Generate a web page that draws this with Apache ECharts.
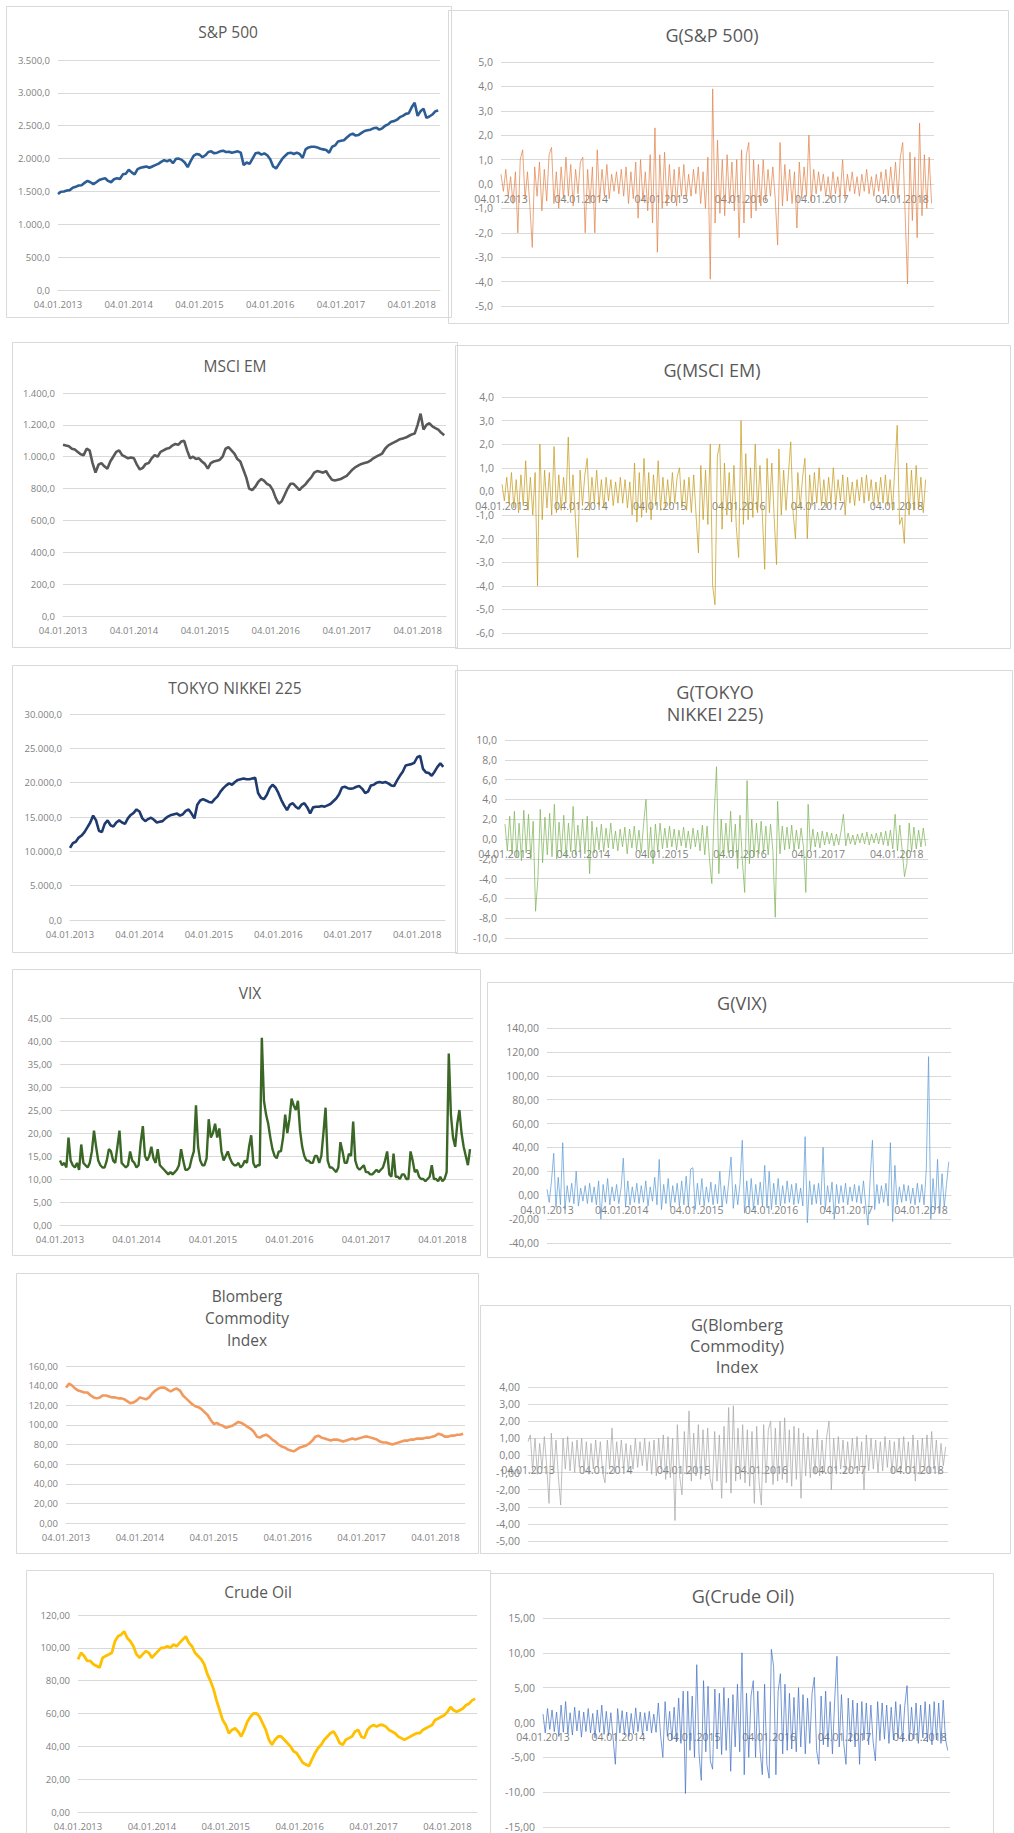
<!DOCTYPE html>
<html>
<head>
<meta charset="utf-8">
<title>Indizes und Renditen 2013-2018</title>
<script src="https://cdn.jsdelivr.net/npm/echarts@6/dist/echarts.min.js"></script>
<style>
html, body { margin: 0; padding: 0; background: #fff; }
#chart { width: 1014px; height: 1833px; }
</style>
</head>
<body>
<div id="chart"></div>
<script>
// index levels, two readings per month from Jan 2013 (VIX: three per month)
var spx = [1460,1495,1500,1515,1520,1555,1570,1590,1595,1630,1660,1640,1610,1640,1675,1690,1700,1660,1640,1685,1700,1690,1760,1770,
  1830,1790,1760,1840,1860,1870,1880,1860,1880,1900,1920,1950,1975,1960,1980,1930,1995,2000,1980,1940,1870,1960,2040,2070,
  2060,2020,2050,2100,2110,2080,2090,2110,2120,2100,2105,2090,2100,2110,2090,1900,1940,1920,2000,2080,2090,2060,2080,2050,
  1990,1880,1850,1920,1990,2040,2080,2090,2070,2090,2070,2010,2140,2170,2180,2180,2170,2150,2140,2130,2090,2180,2200,2260,
  2270,2280,2320,2360,2380,2350,2360,2390,2420,2430,2440,2460,2470,2440,2460,2500,2520,2560,2570,2590,2630,2650,2680,2690,
  2780,2850,2650,2720,2760,2620,2640,2670,2720,2730];
var msci = [1075,1070,1065,1050,1045,1030,1015,1010,1050,1040,960,900,950,960,940,925,970,1000,1030,1040,1010,1000,990,995,
  990,950,920,930,955,960,990,1010,1000,1030,1040,1050,1055,1070,1080,1075,1095,1100,1040,990,1000,985,990,970,
  955,925,960,970,975,980,1000,1050,1060,1040,1020,985,970,920,870,800,790,810,840,860,850,830,820,790,
  740,705,720,760,800,830,830,810,790,810,825,850,870,900,910,905,900,910,880,855,850,855,860,870,
  880,900,920,935,945,955,960,965,975,990,1000,1010,1020,1050,1070,1080,1090,1100,1110,1115,1120,1130,1140,1145,
  1200,1270,1170,1200,1210,1190,1180,1170,1150,1135];
var nikkei = [10500,11200,11400,12000,12300,12800,13500,14200,15200,14500,13000,12800,14000,14500,13800,13600,14200,14500,14200,14000,14800,15300,15600,16100,
  15800,14800,14400,14700,14900,14600,14200,14300,14400,14800,15100,15300,15400,15500,15200,15400,15900,16100,15500,14800,16800,17400,17600,17400,
  17200,17100,17600,18000,18700,19200,19600,19900,19700,20100,20400,20500,20600,20500,20500,20600,20700,18500,17800,17600,18200,19200,19700,19300,
  18500,17500,16700,16000,16800,17000,16500,16200,16800,17000,16400,15500,16400,16500,16500,16600,16500,16700,16900,17300,17700,18300,19300,19400,
  19200,19100,19200,19400,19500,19100,18500,18700,19600,19700,20000,20100,20000,20100,19900,19600,19500,20300,21000,21600,22500,22600,22700,22900,
  23700,23900,22000,21500,21400,21000,21600,22300,22800,22300];
var vix = [14,13,13.5, 12.5,19,14, 13,12.5,13.5, 12,17.5,13.5, 13,12.5,13.5, 16,20.5,17, 14,13,12.5, 12.5,14,16.5, 16,14,13.5, 17,20.5,13.5, 13,12.5,13, 16,14,13.5,
  12.5,13,18, 21.5,15,14, 15,17,14.5, 13.5,16.5,13, 12.5,12,11.5, 11,11.5,11, 11.5,12,13, 16.5,14,12, 12,12.5,14.5, 16,26,17, 14,13,13, 14.5,23,19,
  20,22,19, 21,16,14, 15,16,14.5, 13.5,13,13, 13.5,12.5,13, 14,13.5,17, 19.5,13.5,12.5, 13,13,40.7, 27,24,22, 19,16.5,15, 14.5,16,16, 19,24,20,
  23,27.5,26, 25,27,20.5, 17,15,14, 14,13.5,13.5, 15,15,13.5, 15,20,25.5, 14,12.5,12.5, 12,11.5,12.5, 18,16,13.5, 13.5,15.5,15, 22.5,14,12.5, 12,12.5,13,
  11.5,11.5,11, 11,11.5,12, 11.5,12,12.5, 14,16,11, 10.5,15.5,10.5, 10.5,10,11, 11,10,10, 16,14,11.5, 12,10.5,10, 10,9.5,10, 10.5,13,10, 10,9.5,10.5,
  9.5,10,11.5, 37.3,24,19, 17,22,25, 20,17,15, 13,16.5];
var bcom = [138,142,140,137,135,134,133,133,130,128,127,128,130,130,129,128,128,127,127,126,124,122,123,125,
  128,127,126,128,132,135,137,138,138,136,134,136,137,135,130,127,124,121,119,118,116,113,110,105,
  101,102,100,99,97,98,99,101,103,102,100,98,96,93,88,87,89,90,88,85,83,80,78,77,
  75,74,73,75,77,78,79,81,84,88,89,87,86,85,84,85,85,84,83,84,85,86,85,86,
  87,88,88,87,86,85,83,82,82,81,80,81,82,83,84,84,85,85,86,86,86,87,87,88,
  89,91,90,88,88,89,89,90,90,91];
var oil = [93,97,95,92,92,90,89,88,94,95,96,97,104,107,108,110,106,104,101,96,94,96,98,97,
  94,96,98,100,100,101,100,102,101,103,105,107,103,101,97,95,93,90,84,80,75,68,62,56,
  53,48,50,51,49,46,50,55,58,60,60,58,54,50,44,41,44,46,46,44,42,40,37,36,
  33,30,29,28,32,36,39,41,44,46,48,49,46,42,41,44,45,46,49,50,46,45,50,52,
  53,52,53,53,52,50,49,48,46,45,44,45,46,47,48,48,50,51,52,53,56,57,58,59,
  61,64,62,61,62,63,65,66,68,69];

// returns G(...) in %, one reading every ~11 days
var spxRet = [0.4,-0.3,0.6,-0.5,0.3,-0.8,0.5,-2.0,1.0,1.4, -0.6,0.5,-0.9,-2.6,0.7,-0.5,0.9,-1.1,0.6,-0.7,
  1.2,1.5,-0.8,0.5,-1.0,0.7,-0.6,1.1,-0.5,0.8, -0.9,0.6,-0.4,0.9,1.1,-2.0,0.6,-0.8,0.7,-2.0,
  1.4,-0.7,0.6,-0.5,0.8,-0.6,0.4,-0.3,0.5,-0.4, 0.6,-0.5,0.7,-0.8,0.5,-0.6,0.9,-1.4,1.0,-0.7,
  0.5,-1.1,1.2,-1.6,2.3,-2.8,1.2,-1.0,1.3,-0.9, 0.8,-0.7,0.6,-0.9,0.7,-0.5,0.8,-0.6,0.4,-0.5,
  0.6,-0.4,0.7,-0.8,0.5,-1.0,1.1,-3.9,3.9,-1.6, 1.8,-1.2,1.0,-1.3,1.2,-0.8,0.9,-1.1,1.0,-2.2,
  1.4,-1.6,1.2,1.7,-1.4,1.0,-1.1,0.8,-0.9,1.0, -0.7,0.6,-0.5,0.7,-0.6,-2.5,1.7,-0.9,0.8,-0.7,
  0.6,-0.8,0.5,-1.8,0.9,-0.6,0.7,-0.5,2.0,-0.7, 0.6,-0.4,0.5,-0.3,0.4,-0.5,0.3,-0.6,0.5,-0.4,
  0.3,-0.5,1.0,-0.6,0.4,-0.3,0.5,-0.4,0.3,-0.5, 0.4,-0.3,0.6,-0.4,0.3,-0.5,0.4,-0.3,0.5,-0.4,
  0.6,-0.5,0.7,-0.4,0.9,-0.6,1.1,1.7,-1.2,-4.1, 1.3,-1.5,1.1,-2.2,2.5,-1.3,1.2,-1.0,1.1,-0.8];
var msciRet = [0.3,-0.4,0.6,-0.5,0.8,-0.7,0.5,-0.9,0.7,-0.6, 1.3,-0.8,0.6,-1.0,0.8,-4.0,2.0,-1.2,0.9,-0.7,
  0.8,-1.0,1.9,-0.9,0.7,-0.8,0.6,-0.5,2.3,-0.9, 0.7,-1.1,-2.8,0.9,-0.6,0.7,1.4,-0.8,0.6,-0.5,
  0.9,-0.6,0.5,-0.7,0.6,-0.4,0.5,-0.6,0.4,-0.5, 0.6,-0.5,0.5,-0.7,0.4,-1.0,1.2,-1.3,0.8,-1.1,
  1.4,-0.9,0.8,-1.2,0.7,-0.6,1.3,-0.8,0.6,-0.7, 0.5,-0.6,0.8,-0.5,0.6,1.0,-0.7,0.5,-0.8,0.6,
  -0.9,0.7,-1.0,-2.6,1.1,-1.2,0.9,-1.4,2.0,-4.0, -4.8,1.5,2.0,-1.6,1.2,-1.0,0.8,-1.3,1.1,-1.5,
  -2.8,3.0,-1.4,1.6,-1.2,1.0,-1.1,2.0,-0.9,1.1, -1.0,-3.3,1.4,-0.9,1.2,-1.1,-3.1,1.8,-1.0,0.9,
  -0.8,0.7,2.1,-0.9,-2.0,0.8,-0.7,0.6,1.4,-2.0, 0.7,-0.6,0.8,-0.5,1.0,-0.6,0.5,-0.7,0.6,-0.5,
  1.0,-0.6,0.5,-0.4,0.7,-1.0,0.6,-0.5,0.4,-0.6, 0.5,-0.4,0.6,-0.5,0.7,-0.4,0.5,-0.6,0.4,-0.5,
  0.6,-0.5,0.7,-0.6,0.5,-0.8,1.0,2.8,-1.4,-1.1, -2.2,1.2,-1.0,0.9,-0.8,1.1,-0.7,0.6,-0.9,0.5];
var nikkeiRet = [1.5,-1.2,2.3,-1.5,2.8,-1.8,1.6,-2.2,2.9,-1.4, 2.5,-2.0,1.8,-7.3,-4.0,3.0,-2.4,2.2,-1.6,2.6,
  -1.8,3.5,-2.0,1.7,-1.5,2.4,-1.9,1.6,-1.3,3.3, -1.6,1.4,-1.2,2.0,-1.5,2.3,-3.5,1.8,-1.4,1.2,
  -1.1,1.5,-1.3,1.1,-0.9,1.6,-1.0,0.8,-1.2,1.0, -0.8,1.2,-1.5,1.0,-0.9,1.3,-1.1,0.9,-1.4,1.6,
  4.0,-1.8,1.2,-2.5,1.5,-1.2,1.6,-1.0,1.1,-0.9, 1.3,-0.8,1.0,-1.1,0.9,-0.7,1.2,-0.9,0.8,-1.0,
  1.1,-0.8,0.9,-1.2,1.4,-1.6,1.3,-2.0,-4.5,2.5, 7.3,-3.5,2.0,-1.8,1.6,-1.4,2.8,-1.7,1.5,-3.0,
  2.4,-2.2,-5.4,5.9,-2.5,2.0,-1.8,1.6,-1.5,1.8, -1.4,1.3,-1.6,1.5,-1.2,-7.9,3.8,-1.5,1.3,-1.1,
  1.2,-1.0,1.4,-1.2,0.9,-1.0,1.1,-0.8,-5.4,3.5, -1.1,1.0,-0.8,0.7,-0.9,0.8,-0.6,0.7,-0.5,0.6,
  -0.7,0.5,-0.6,0.8,2.5,-0.7,0.6,-0.5,0.4,-0.6, 0.5,-0.4,0.6,-0.5,0.7,-0.6,0.5,-0.4,0.6,-0.5,
  0.7,-0.6,0.8,-0.7,0.9,-1.0,2.5,-1.2,1.4,-1.1, -3.8,-2.5,1.6,-1.3,1.2,-1.0,0.9,-0.8,1.1,-0.7];
var vixRet = [5,-6,12,35,-10,15,-8,44,-12,8, -6,10,-7,20,-9,6,-5,8,-7,10,
  -6,7,-8,12,-20,9,-6,14,-8,7, -5,9,-7,6,31,-10,12,-8,7,-6,
  10,-7,8,-6,12,-9,7,-5,15,-8, 30,-12,9,-7,14,-10,8,-6,10,-9,
  12,-8,16,-10,22,23,-12,10,-8,14, -9,7,-6,11,-8,9,-7,20,-10,8,
  -7,12,32,-11,9,-8,10,46,-15,12, -10,14,-12,9,-8,11,-9,25,-10,20,
  -12,10,-8,14,-9,8,-7,12,-6,9, -8,10,-7,6,-9,49,-23,12,-8,9,
  -7,10,-8,40,-12,8,-6,11,-20,9, -7,8,-6,10,-8,7,-5,9,-6,8,
  -7,12,-8,-25,15,46,-12,9,-7,8, -6,10,-9,44,-22,25,-8,7,-6,9,
  -5,8,-7,6,-8,10,-6,9,-8,22, 116,-20,14,-12,30,-15,18,-10,9,28];
var bcomRet = [0.8,1.2,-0.9,1.0,-1.1,0.7,-0.8,1.1,-0.6,-2.8, 1.3,-1.0,0.9,-1.2,-2.9,1.0,-0.8,1.1,-0.9,0.8,
  -1.0,0.9,-0.7,1.0,-0.9,0.8,-1.1,0.7,-0.8,0.9, -0.7,0.8,-1.0,-1.6,0.9,-0.8,1.6,-1.0,0.8,-0.7,
  0.9,-0.8,0.7,-0.9,0.6,-0.8,1.0,-0.7,0.8,-0.6, 1.0,-0.9,0.8,-1.1,0.9,-1.2,1.0,-0.8,1.2,-1.4,
  1.1,-1.3,1.0,-3.8,1.8,-1.2,-2.3,1.4,-1.1,2.6, -1.5,1.3,-1.2,1.8,-1.4,1.5,-1.2,1.6,-1.3,-2.0,
  1.4,-1.5,1.2,-2.5,1.7,-1.6,2.8,-2.2,2.9,-1.5, 1.6,-1.4,1.8,-1.6,1.5,-1.8,1.4,-2.8,1.7,-1.5,
  -2.9,1.8,-1.6,1.5,2.0,-1.7,1.6,-1.5,2.0,-1.4, 2.2,-1.6,1.5,-1.8,1.7,-1.4,1.6,-2.5,1.3,-1.2,
  1.1,-1.3,1.0,-1.1,1.5,-1.2,0.9,-1.0,1.1,2.0, -2.0,1.0,-0.9,1.1,-0.8,0.9,-1.0,0.8,-0.9,1.0,
  -0.8,1.1,-0.9,0.8,-2.0,1.2,-0.9,1.0,-0.8,0.9, -1.0,0.8,-0.9,1.1,-0.7,0.9,-1.0,0.8,-0.9,1.0,
  -0.8,1.1,-0.9,0.8,-1.0,1.2,-1.5,0.9,-1.1,1.0, -0.9,1.2,-1.0,1.4,-0.8,0.9,-1.1,0.7,-0.6,0.5];
var oilRet = [1.2,-1.5,2.0,-1.0,1.8,-1.3,1.5,-2.0,2.5,-1.4, 3.0,-1.6,1.4,-1.8,2.2,-1.2,1.7,-2.1,1.5,-1.3,
  2.0,-1.5,1.3,-2.2,1.8,-1.4,2.5,-1.7,1.6,-1.9, 1.4,-2.3,-6.0,2.0,-1.5,1.7,-1.8,1.5,-2.0,1.3,
  -1.6,2.1,-1.3,1.5,-1.8,1.4,-1.2,1.6,-1.5,1.2, -1.4,2.8,-1.8,-5.0,3.0,-2.0,1.6,-2.5,2.2,-2.8,
  3.5,-3.0,4.5,-10.2,4.5,-4.0,3.8,-5.0,8.3,-4.5, -8.3,6.0,-4.2,5.2,-5.5,-6.7,4.8,-3.8,4.2,-4.6,
  5.0,-4.0,3.5,-7.0,4.0,-3.5,5.5,-4.2,10.0,-7.5, 4.2,-5.0,3.8,6.0,-5.0,4.5,-4.0,-7.5,5.5,-6.0,
  -8.0,10.5,8.0,-7.5,4.5,7.0,-4.5,5.5,-4.0,4.2, -3.8,3.6,-4.2,5.0,-3.5,4.0,-4.5,3.5,-3.0,4.2,
  6.5,-4.0,-6.0,3.8,-3.2,4.5,-3.5,3.0,-4.5,3.2, 9.5,-3.5,4.0,-3.0,-6.0,3.5,-2.8,3.2,-3.5,2.8,
  -6.0,3.0,-2.5,2.8,-3.2,2.5,-2.8,-5.5,3.0,-2.6, 2.8,-2.4,2.5,-3.0,2.2,-2.5,3.0,-2.2,2.6,-2.8,
  2.4,5.3,-2.6,2.2,-2.4,2.8,-3.0,2.5,-2.2,3.0, -2.8,2.6,-3.2,3.0,-2.5,2.8,-3.0,3.2,-2.4,-4.0];

var levelStep = 1 / 24, vixStep = 1 / 36, retStep = 0.03;

// german number format: 3.500,0
function deNum(v, d) {
  var s = Math.abs(v).toFixed(d).split('.');
  var ip = s[0].replace(/\B(?=(\d{3})+(?!\d))/g, '.');
  return (v < 0 ? '-' : '') + ip + ',' + s[1];
}
function toXY(vals, step) {
  return vals.map(function (v, i) { return [2013 + i * step, v]; });
}

// layout per panel: grid [left, top, width, height], box [x1, y1, x2, y2]
var panels = [
  { title: 'S&P 500', vals: spx, step: levelStep, color: '#2D5D95', lw: 2.6, op: 1,
    grid: [58, 60, 382, 230], box: [6, 6, 451, 317], tx: 228, ty: 32, fs: 15.5, lf: 9.5,
    min: 0, max: 3500, step_y: 500, dec: 1 },
  { title: 'G(S&P 500)', vals: spxRet, step: retStep, color: '#E0834A', lw: 0.8, op: 0.9,
    grid: [501, 62, 433, 244], box: [448, 10, 1008, 323], tx: 712, ty: 35, fs: 18, lf: 10.5,
    min: -5, max: 5, step_y: 1, dec: 1 },
  { title: 'MSCI EM', vals: msci, step: levelStep, color: '#595959', lw: 2.6, op: 1,
    grid: [63, 393, 383, 223], box: [12, 342, 457, 647], tx: 235, ty: 366, fs: 15.5, lf: 9.5,
    min: 0, max: 1400, step_y: 200, dec: 1 },
  { title: 'G(MSCI EM)', vals: msciRet, step: retStep, color: '#C49A1C', lw: 0.8, op: 0.9,
    grid: [502, 397, 426, 236], box: [455, 345, 1010, 648], tx: 712, ty: 370, fs: 18, lf: 10.5,
    min: -6, max: 4, step_y: 1, dec: 1 },
  { title: 'TOKYO NIKKEI 225', vals: nikkei, step: levelStep, color: '#1F3A6E', lw: 2.6, op: 1,
    grid: [70, 714, 375, 206], box: [12, 665, 457, 952], tx: 235, ty: 688, fs: 15.5, lf: 9.5,
    min: 0, max: 30000, step_y: 5000, dec: 1 },
  { title: 'G(TOKYO\nNIKKEI 225)', vals: nikkeiRet, step: retStep, color: '#7DB356', lw: 0.8, op: 0.9,
    grid: [505, 740, 423, 198], box: [455, 670, 1012, 953], tx: 715, ty: 703, fs: 18, lf: 10.5, lh: 22,
    min: -10, max: 10, step_y: 2, dec: 1 },
  { title: 'VIX', vals: vix, step: vixStep, color: '#3B6726', lw: 2.4, op: 1,
    grid: [60, 1018, 413, 207], box: [12, 969, 480, 1255], tx: 250, ty: 993, fs: 15.5, lf: 9.5,
    min: 0, max: 45, step_y: 5, dec: 2 },
  { title: 'G(VIX)', vals: vixRet, step: retStep, color: '#5B9BD5', lw: 0.8, op: 0.9,
    grid: [547, 1028, 404, 215], box: [487, 982, 1013, 1257], tx: 742, ty: 1003, fs: 18, lf: 10.5,
    min: -40, max: 140, step_y: 20, dec: 2 },
  { title: 'Blomberg\nCommodity\nIndex', vals: bcom, step: levelStep, color: '#F29A5E', lw: 2.6, op: 1,
    grid: [66, 1366, 399, 157], box: [16, 1273, 478, 1553], tx: 247, ty: 1318, fs: 15.5, lf: 9.5, lh: 22,
    min: 0, max: 160, step_y: 20, dec: 2 },
  { title: 'G(Blomberg\nCommodity)\nIndex', vals: bcomRet, step: retStep, color: '#A6A6A6', lw: 0.8, op: 0.9,
    grid: [528, 1387, 420, 154], box: [480, 1305, 1010, 1553], tx: 737, ty: 1345, fs: 16.5, lf: 10.5, lh: 21,
    min: -5, max: 4, step_y: 1, dec: 2 },
  { title: 'Crude Oil', vals: oil, step: levelStep, color: '#FFC000', lw: 2.8, op: 1,
    grid: [78, 1615, 399, 197], box: [26, 1570, 490, 1833], tx: 258, ty: 1592, fs: 15.5, lf: 9.5,
    min: 0, max: 120, step_y: 20, dec: 2 },
  { title: 'G(Crude Oil)', vals: oilRet, step: retStep, color: '#4472C4', lw: 0.8, op: 0.9,
    grid: [543, 1618, 407, 209], box: [490, 1573, 993, 1833], tx: 743, ty: 1596, fs: 18, lf: 10.5,
    min: -15, max: 15, step_y: 5, dec: 2 }
];

var grids = [], xAxes = [], yAxes = [], series = [], graphics = [];
panels.forEach(function (p, i) {
  grids.push({ left: p.grid[0], top: p.grid[1], width: p.grid[2], height: p.grid[3],
    containLabel: false, outerBoundsMode: 'none' });
  // the date axis sits on the zero line, so lift it up from the bottom of the grid
  var lift = p.min < 0 ? -p.grid[3] * (0 - p.min) / (p.max - p.min) : 0;
  xAxes.push({
    type: 'value', gridIndex: i, min: 2013, max: 2018.4, interval: 1,
    position: 'bottom', offset: lift,
    axisLine: { show: true, onZero: false, lineStyle: { color: '#d9d9d9', width: 1 } },
    axisTick: { show: false },
    splitLine: { show: false },
    axisLabel: {
      color: '#7f7f7f', fontSize: p.lf, fontFamily: 'Open Sans', margin: 9,
      formatter: function (v) {
        return Math.abs(v - Math.round(v)) < 1e-6 ? '04.01.' + Math.round(v) : '';
      }
    }
  });
  yAxes.push({
    type: 'value', gridIndex: i, min: p.min, max: p.max, interval: p.step_y,
    axisLine: { show: false }, axisTick: { show: false },
    splitLine: { show: true, lineStyle: { color: '#d9d9d9', width: 1 } },
    axisLabel: {
      color: '#7f7f7f', fontSize: p.lf, fontFamily: 'Open Sans', margin: 8,
      formatter: function (v) { return deNum(v, p.dec); }
    }
  });
  series.push({
    name: p.title.replace(/\n/g, ' '), type: 'line', xAxisIndex: i, yAxisIndex: i,
    data: toXY(p.vals, p.step), symbol: 'none', showSymbol: false,
    lineStyle: { color: p.color, width: p.lw, opacity: p.op },
    itemStyle: { color: p.color },
    animation: false, silent: true
  });
  graphics.push({
    type: 'rect', silent: true,
    shape: { x: p.box[0] + 0.5, y: p.box[1] + 0.5, width: p.box[2] - p.box[0], height: p.box[3] - p.box[1] },
    style: { fill: 'none', stroke: '#d9d9d9', lineWidth: 1 }
  });
  graphics.push({
    type: 'text', silent: true, x: p.tx, y: p.ty,
    style: { text: p.title, fill: '#595959', fontSize: p.fs, fontFamily: 'Open Sans',
      align: 'center', verticalAlign: 'middle', lineHeight: p.lh || 22 }
  });
});

var myChart = echarts.init(document.getElementById('chart'), null, { renderer: 'svg' });
myChart.setOption({
  backgroundColor: '#ffffff',
  animation: false,
  grid: grids,
  xAxis: xAxes,
  yAxis: yAxes,
  series: series,
  graphic: graphics
});
</script>
</body>
</html>
